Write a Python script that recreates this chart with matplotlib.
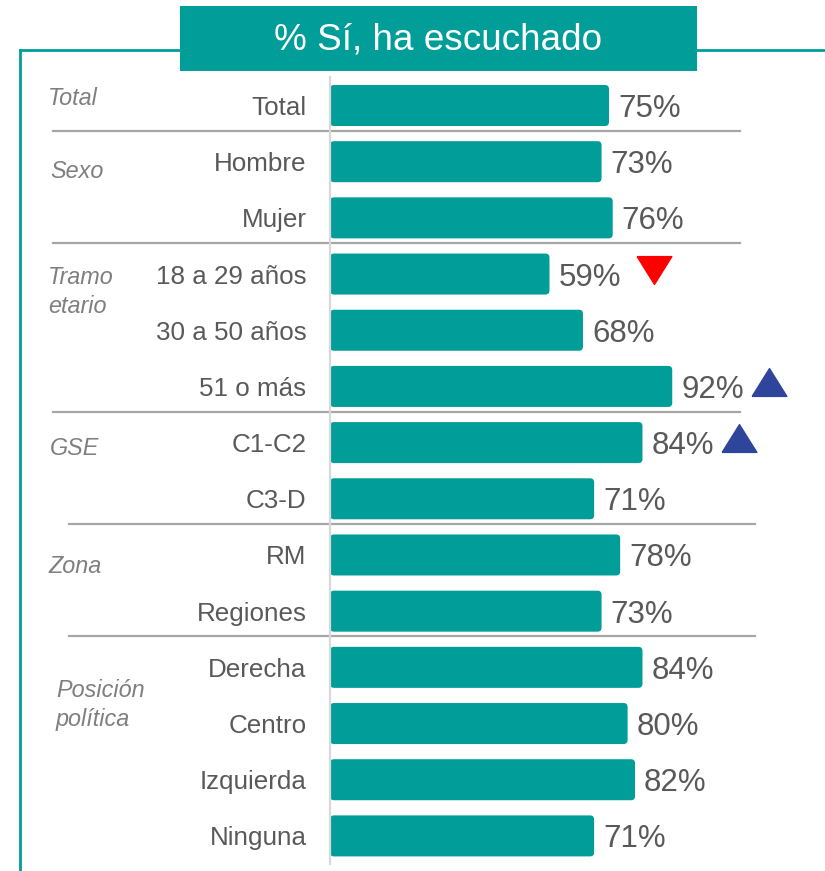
import matplotlib
matplotlib.use("Agg")
import matplotlib.pyplot as plt
from matplotlib.patches import FancyBboxPatch, Rectangle
from matplotlib.lines import Line2D
import matplotlib.transforms as mtransforms

plt.rcParams['font.family'] = ['Liberation Sans', 'DejaVu Sans']

# data
rows = ['Total', 'Hombre', 'Mujer', '18 a 29 años', '30 a 50 años', '51 o más',
        'C1-C2', 'C3-D', 'RM', 'Regiones', 'Derecha', 'Centro', 'Izquierda', 'Ninguna']
values = [75, 73, 76, 59, 68, 92, 84, 71, 78, 73, 84, 80, 82, 71]
groups = ['Total', 'Sexo', 'Tramo\netario', 'GSE', 'Zona', 'Posición\npolítica']
group_sizes = [1, 2, 3, 2, 2, 4]
# significance marks: row -> direction
sig_marks = {3: 'down', 5: 'up', 6: 'up'}
title = '% Sí, ha escuchado'

TEAL = '#009d99'
TXT = '#595959'
GRP = '#7f7f7f'

W, H = 825, 871
fig = plt.figure(figsize=(W / 100, H / 100), dpi=100)

def fx(px):
    return px / W

def fy(py):
    return 1 - py / H

# bar axes
ax = fig.add_axes([fx(330), fy(864), fx(372), (864 - 77.4) / H])
ypos = list(range(len(rows)))
bars = ax.barh(ypos, values, height=0.73, color=TEAL)
ax.set_xlim(0, 100)
ax.set_ylim(len(rows) - 0.5, -0.5)

# rounded bar ends
for b in bars:
    x, y, w, h = b.get_x(), b.get_y(), b.get_width(), b.get_height()
    p = FancyBboxPatch((x, y), w, h, boxstyle='round,pad=0,rounding_size=1.1',
                       mutation_aspect=0.065, facecolor=TEAL, edgecolor='none')
    ax.add_patch(p)
    b.remove()

for s in ['top', 'right', 'bottom']:
    ax.spines[s].set_visible(False)
ax.spines['left'].set_color('#d9d9d9')
ax.spines['left'].set_linewidth(1.6)
ax.set_xticks([])
ax.set_yticks(ypos)
ax.set_yticklabels(rows, fontsize=18.7, color=TXT)
ax.tick_params(axis='y', length=0, pad=17)

# value labels
for i, v in enumerate(values):
    ax.annotate(f'{v}%', (v, i), xytext=(6.5, 0), textcoords='offset points',
                ha='left', va='center_baseline', fontsize=22.5, color=TXT)

# significance triangles
tri_up = [(-1, -0.8), (1, -0.8), (0, 0.8), (-1, -0.8)]
tri_down = [(-1, 0.8), (1, 0.8), (0, -0.8), (-1, 0.8)]
for r, d in sig_marks.items():
    off = 28 if d == 'down' else 26
    ax.plot(values[r] + off, r - 0.08, marker=tri_down if d == 'down' else tri_up,
            markersize=25, color='#ff0000' if d == 'down' else '#2f459b',
            clip_on=False, linestyle='none')

# group separators and labels
blend = mtransforms.blended_transform_factory(fig.transFigure, ax.transData)
start = 0
label_y = [-0.13, 1.17, 3.32, 6.11, 8.21, 10.67]
label_x = [48, 50, 48, 50, 48, 56]
for gi, (g, n) in enumerate(zip(groups, group_sizes)):
    ax.text(fx(label_x[gi]), label_y[gi], g, transform=blend, ha='left',
            va='center', fontsize=16.8, color=GRP, style='italic', linespacing=1.3)
    start += n
    if start < len(rows):
        x0, x1 = (53, 740) if gi < 3 else (69, 755)
        ax.add_line(Line2D([fx(x0), fx(x1)], [start - 0.55, start - 0.55],
                           transform=blend, color='#a6a6a6', lw=1.6, clip_on=False))

# frame and title box
fig.add_artist(Line2D([fx(20), fx(20)], [fy(50), 0], color=TEAL, lw=2))
fig.add_artist(Line2D([fx(20), fx(181)], [fy(50), fy(50)], color=TEAL, lw=2))
fig.add_artist(Line2D([fx(696), 1], [fy(50), fy(50)], color=TEAL, lw=2))
fig.add_artist(Rectangle((fx(180), fy(71)), fx(517), (71 - 6) / H,
                         transform=fig.transFigure, facecolor=TEAL, edgecolor='none'))
fig.text(fx(438.5), fy(40), title, ha='center', va='center', fontsize=26.6,
         color='white')

fig.savefig('out.png', dpi=100)
